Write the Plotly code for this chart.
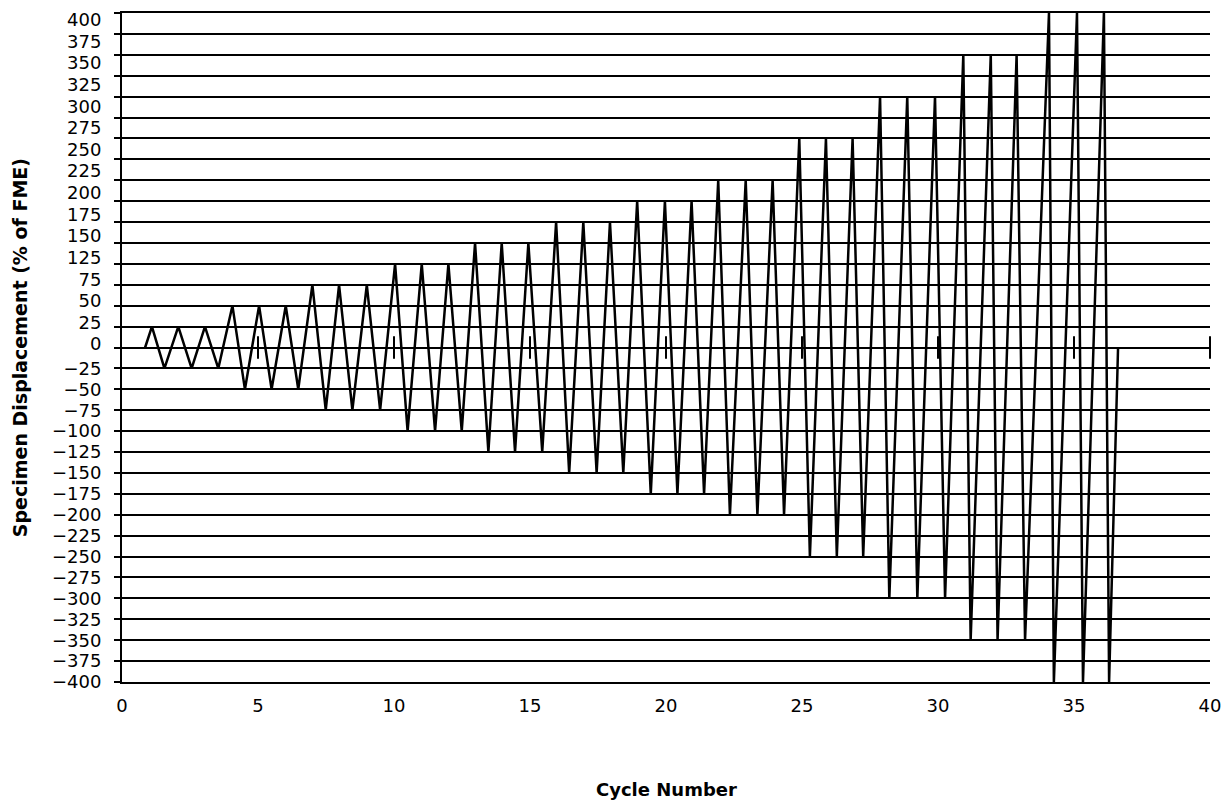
import plotly.graph_objects as go
import numpy as np

# ---- data ----
start_x = 0.85
end_x = 36.62
amplitudes = [25, 25, 25, 50, 50, 50, 75, 75, 75, 100, 100, 100,
              125, 125, 125, 150, 150, 150, 175, 175, 175, 200, 200, 200,
              250, 250, 250, 300, 300, 300, 350, 350, 350, 400, 400, 400]
peak_x = [1.10, 2.07, 3.05, 4.06, 5.04, 6.02, 7.00, 7.98, 9.00,
          10.04, 11.02, 12.00, 12.98, 13.96, 14.94, 15.96, 16.96, 17.94,
          18.94, 19.96, 20.94, 21.92, 22.93, 23.92, 24.90, 25.88, 26.86,
          27.87, 28.87, 29.89, 30.93, 31.94, 32.89, 34.08, 35.11, 36.10]
trough_x = [1.56, 2.56, 3.54, 4.52, 5.50, 6.48, 7.49, 8.47, 9.49,
            10.50, 11.51, 12.49, 13.47, 14.45, 15.45, 16.44, 17.45, 18.43,
            19.44, 20.42, 21.40, 22.35, 23.36, 24.34, 25.29, 26.28, 27.25,
            28.21, 29.24, 30.26, 31.20, 32.19, 33.20, 34.26, 35.33, 36.29]

grid_vals = list(range(-400, 401, 25))
pos_labels = ["400", "375", "350", "325", "300", "275", "250", "225", "200",
              "175", "150", "125", "75", "50", "25", "0"]
neg_labels = ["\u221225", "\u221250", "\u221275", "\u2212100", "\u2212125", "\u2212150",
              "\u2212175", "\u2212200", "\u2212225", "\u2212250", "\u2212275", "\u2212300",
              "\u2212325", "\u2212350", "\u2212375", "\u2212400"]
neg_label_vals = [-25, -50, -75, -100, -125, -150, -175, -200, -225, -250,
                  -275, -300, -325, -350, -375, -400]
x_tick_vals = [0, 5, 10, 15, 20, 25, 30, 35, 40]
zero_marks = [5, 10, 15, 20, 25, 30, 35, 40]

# ---- build path ----
xs = [start_x]
ys = [0]
for px, tx, a in zip(peak_x, trough_x, amplitudes):
    xs += [px, tx]
    ys += [a, -a]
xs.append(end_x)
ys.append(0)

TICKFONT = "'DejaVu Sans', sans-serif"
TITLEFONT = "'DejaVu Sans', sans-serif"

fig = go.Figure()
fig.add_trace(go.Scatter(x=xs, y=ys, mode="lines",
                         line=dict(color="black", width=2.5),
                         showlegend=False, hoverinfo="skip", cliponaxis=False))
fig.add_trace(go.Scatter(x=zero_marks, y=[0] * len(zero_marks), mode="markers",
                         marker=dict(symbol="line-ns", size=16,
                                     line=dict(color="black", width=2)),
                         showlegend=False, hoverinfo="skip", yaxis="y2",
                         cliponaxis=False))

pos_vals = list(np.linspace(392, 4, len(pos_labels)))

fig.update_layout(
    template="none",
    width=1221, height=798,
    margin=dict(l=114, r=19, t=5, b=124, autoexpand=False),
    paper_bgcolor="white", plot_bgcolor="white",
    font=dict(family=TICKFONT, color="black", size=18),
    xaxis=dict(range=[0, 40], tickvals=x_tick_vals,
               ticktext=[str(v) for v in x_tick_vals],
               showgrid=False, zeroline=False,
               showline=True, mirror=True, linecolor="black", linewidth=1.8,
               ticks="outside", ticklen=0, ticklabelstandoff=6,
               automargin=False,
               tickfont=dict(size=18, family=TICKFONT, color="black")),
    yaxis=dict(range=[-400, 400], tickvals=grid_vals, showticklabels=False,
               showgrid=True, gridcolor="black", gridwidth=1.8,
               zeroline=True, zerolinecolor="black", zerolinewidth=1.8,
               showline=True, linecolor="black", linewidth=2.2,
               ticks="outside", ticklen=6, tickcolor="black", tickwidth=1.8,
               automargin=False),
    yaxis2=dict(range=[-400, 400], overlaying="y", side="left", anchor="x",
                tickvals=pos_vals + neg_label_vals,
                ticktext=pos_labels + neg_labels,
                showgrid=False, zeroline=False, showline=False,
                ticks="outside", ticklen=0, ticklabelstandoff=16,
                ticklabeloverflow="allow",
                automargin=False,
                tickfont=dict(size=18, family=TICKFONT, color="black")),
    annotations=[
        dict(text="<b>Specimen Displacement (% of FME)</b>", xref="paper",
             yref="paper", x=-0.094, y=0.5, textangle=-90, showarrow=False,
             xanchor="center", yanchor="middle",
             font=dict(size=19, family=TITLEFONT, color="black")),
        dict(text="<b>Cycle Number</b>", xref="paper", yref="paper",
             x=0.5, y=-0.161, showarrow=False, xanchor="center",
             yanchor="middle", font=dict(size=18, family=TITLEFONT, color="black")),
    ],
)

fig.write_html("out.html")
